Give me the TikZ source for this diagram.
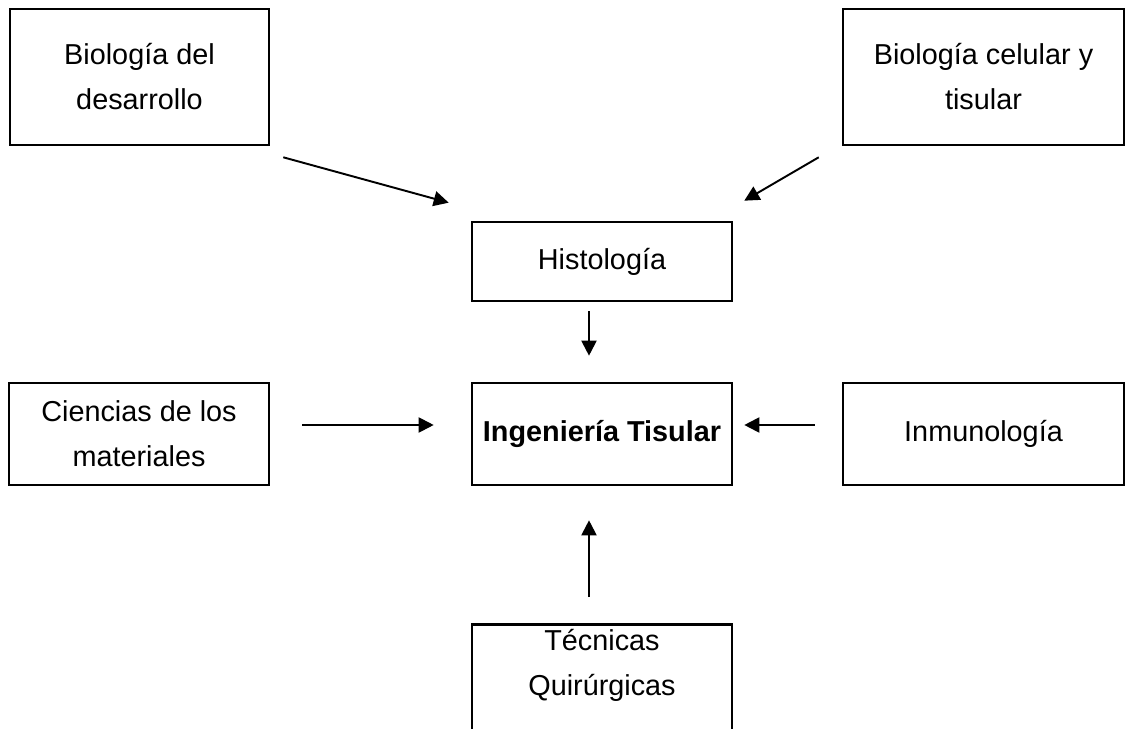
\documentclass[tikz,border=0pt]{standalone}
\usepackage{fontspec}
\setmainfont{Liberation Sans}
\usetikzlibrary{%
  arrows.meta,%
  positioning% wg. " of "
}

\begin{document}
\begin{tikzpicture}[
  x=0.02cm, y=-0.02cm,
  font=\fontsize{16.4}{25.6}\selectfont,
  >={Triangle[length=0.3cm,width=0.3cm]},
  line width=1.1pt,
  box/.style={draw, line width=1.5pt, align=center, inner sep=0pt},
]
\useasboundingbox (0,0) rectangle (1125,729);
\clip (0,0) rectangle (1125,729);

% upper row
\node[box, minimum width=5.18cm, minimum height=2.72cm] (biodes) at (139.5,77) {Biología del\\desarrollo};
\node[box, minimum width=5.62cm, minimum height=2.72cm] (biocel) at (983.5,77) {Biología celular y\\tisular};
\node[box, minimum width=5.2cm, minimum height=1.58cm] (hist) at (602,261.5) {Histología};

% middle row
\node[box, minimum width=5.2cm, minimum height=2.04cm] (cien) at (139,434) {Ciencias de los\\materiales};
\node[box, minimum width=5.2cm, minimum height=2.04cm] (ing) at (602,434) {\bfseries Ingeniería Tisular};
\node[box, minimum width=5.62cm, minimum height=2.04cm] (inm) at (983.5,434) {Inmunología};

% lower box, cut by the page
\node[box, minimum width=5.2cm, inner ysep=0.1cm, text depth=3cm, anchor=north] (tec) at (602,623) {Técnicas\\Quirúrgicas};

\draw[->] ([shift={(13,11)}]biodes.south east) -- ([shift={(-22,-18)}]hist.north west);
\draw[->] ([shift={(-23,11)}]biocel.south west) -- ([shift={(11,-20)}]hist.north east);
\draw[->] ([shift={(-13,9)}]hist.south) -- ([shift={(-13,-26)}]ing.north);
\draw[->] ([shift={(32,-9)}]cien.east) -- ([shift={(-37,-9)}]ing.west);
\draw[->] ([shift={(-27,-9)}]inm.west) -- ([shift={(11,-9)}]ing.east);
\draw[->] ([shift={(-13,-26)}]tec.north) -- ([shift={(-13,34)}]ing.south);

\end{tikzpicture}
\end{document}
